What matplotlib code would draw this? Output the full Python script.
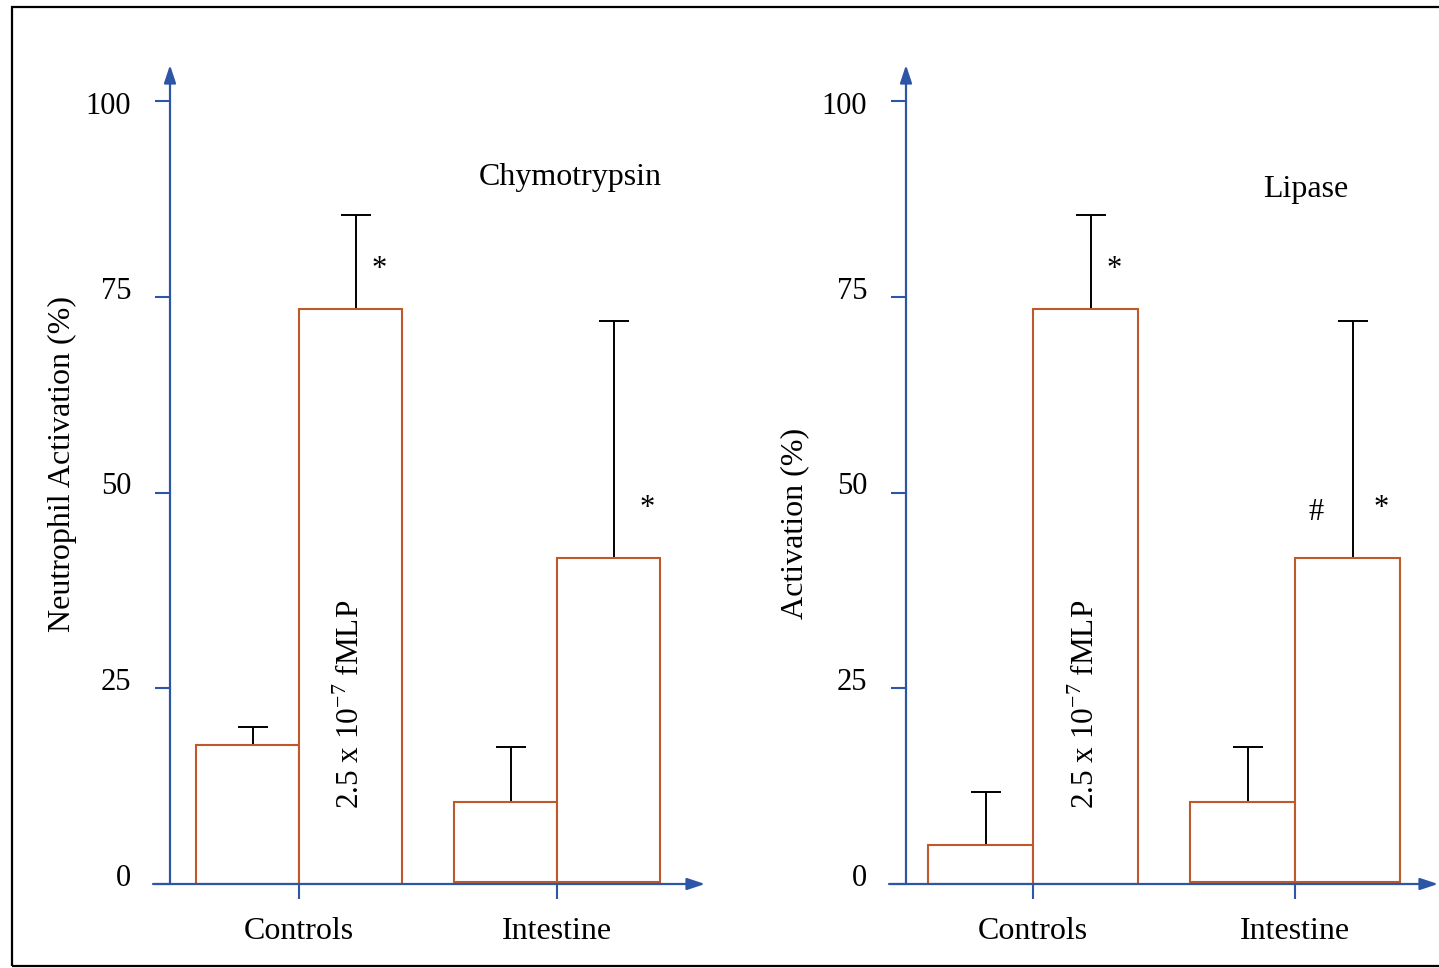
import numpy as np
import matplotlib as mpl
mpl.use('Agg')
import matplotlib.pyplot as plt
from matplotlib.patches import Rectangle
from matplotlib.transforms import ScaledTranslation

plt.rcParams['font.family'] = ['Liberation Serif', 'DejaVu Serif']
plt.rcParams['mathtext.fontset'] = 'custom'
plt.rcParams['mathtext.rm'] = 'Liberation Serif'

# data
groups = ['Controls', 'Intestine']
chymo_base = [17.8, 10.2]
chymo_base_err = [2.2, 7.0]
chymo_fmlp = [73.4, 41.4]
chymo_fmlp_err = [12.0, 30.2]
lipase_base = [5.0, 10.2]
lipase_base_err = [6.8, 7.0]
lipase_fmlp = [73.4, 41.4]
lipase_fmlp_err = [12.0, 30.2]
yticks = [0, 25, 50, 75, 100]

W, H = 1439, 968
blue = '#2E56A6'
orange = '#BE5A2A'
fs = 23

fig = plt.figure(figsize=(W / 100, H / 100), dpi=100)
fig.patches.append(Rectangle((12 / W, 1 - 966 / H), 1.05, (966 - 7) / H,
                             transform=fig.transFigure, fill=False,
                             edgecolor='black', lw=1.6))


def panel(yaxis_px, ctrl_px, int_px, end_px, base, base_err, fmlp, fmlp_err):
    scale = int_px - ctrl_px
    ax = fig.add_axes([yaxis_px / W, 1 - 884 / H, (end_px - yaxis_px) / W, (884 - 65) / H])
    ax.set_xlim(-(ctrl_px - yaxis_px) / scale, (end_px - ctrl_px) / scale)
    ax.set_ylim(0, 819 / 7.83)
    for s in ax.spines.values():
        s.set_visible(False)
    ax.patch.set_visible(False)
    x = np.arange(len(groups))
    bottoms = [0, 0.25]
    ax.bar(x, base, width=-0.4, align='edge', bottom=bottoms, facecolor='white',
           edgecolor=orange, lw=1.5, zorder=2)
    ax.bar(x, fmlp, width=0.4, align='edge', bottom=bottoms, facecolor='white',
           edgecolor=orange, lw=1.5, zorder=2)
    ax.errorbar(x - 0.18, np.array(base) + bottoms, yerr=[np.zeros(2), base_err],
                fmt='none', ecolor='black', elinewidth=1.4, capsize=11, capthick=1.4, zorder=1)
    ax.errorbar(x + 0.22, np.array(fmlp) + bottoms, yerr=[np.zeros(2), fmlp_err],
                fmt='none', ecolor='black', elinewidth=1.4, capsize=11, capthick=1.4, zorder=1)
    # axes with arrows
    arrow = dict(arrowstyle='-|>,head_length=0.6,head_width=0.2', color=blue, lw=1.6,
                 mutation_scale=18, shrinkA=0, shrinkB=0)
    ax.annotate('', xy=(0, 1), xytext=(0, 0), xycoords='axes fraction', arrowprops=arrow)
    ax.annotate('', xy=(1, 0), xytext=(-17 / (end_px - yaxis_px), 0),
                xycoords=ax.get_yaxis_transform(), arrowprops=arrow)
    ax.set_yticks(yticks)
    ax.set_yticklabels([str(t) for t in yticks], fontsize=22)
    ax.set_xticks(x)
    ax.set_xticklabels(groups, fontsize=fs)
    ax.tick_params(axis='y', direction='out', length=11, width=1.5, color=blue, pad=17)
    ax.tick_params(axis='x', direction='out', length=11, width=1.5, color=blue, pad=13)
    # labels sit a little above their ticks in the original, except the top one
    for lab, t in zip(ax.get_yticklabels(), yticks):
        dy = -1.5 if t == 100 else 6.5
        lab.set_transform(lab.get_transform() + ScaledTranslation(0, dy / 72, fig.dpi_scale_trans))
    ax.text(0.2, 23, '2.5 x 10$^{\\mathrm{-7}}$ fMLP', rotation=90, ha='center',
            va='center', fontsize=22.5, zorder=3)
    return ax


ax1 = panel(170, 299, 557, 705, chymo_base, chymo_base_err, chymo_fmlp, chymo_fmlp_err)
ax2 = panel(906, 1033, 1295, 1438, lipase_base, lipase_base_err, lipase_fmlp, lipase_fmlp_err)

ax1.text(1.05, 90.2, 'Chymotrypsin', ha='center', va='center', fontsize=fs)
ax1.text(0.31, 78.5, '*', ha='center', va='center', fontsize=22)
ax1.text(1.35, 48, '*', ha='center', va='center', fontsize=22)

ax2.text(1.04, 88.7, 'Lipase', ha='center', va='center', fontsize=fs)
ax2.text(0.31, 78.5, '*', ha='center', va='center', fontsize=22)
ax2.text(1.08, 47.5, '#', ha='center', va='center', fontsize=22)
ax2.text(1.33, 48, '*', ha='center', va='center', fontsize=22)

fig.text(62 / W, 1 - 464 / H, 'Neutrophil Activation (%)', rotation=90, ha='center',
         va='center', fontsize=fs)
fig.text(795 / W, 1 - 523 / H, 'Activation (%)', rotation=90, ha='center',
         va='center', fontsize=fs)

fig.savefig('out.png', dpi=100)
